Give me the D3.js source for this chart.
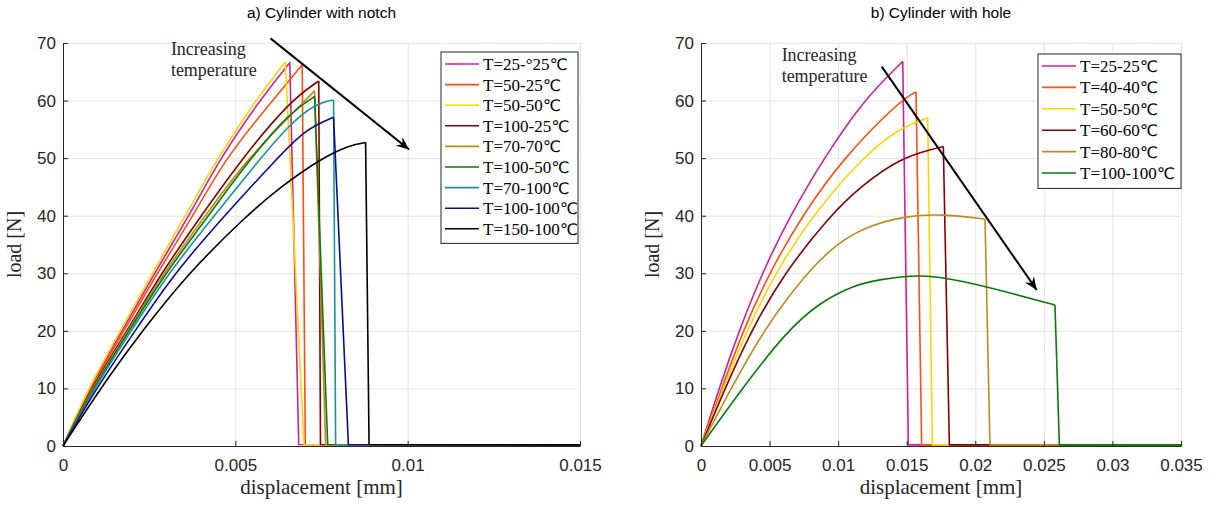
<!DOCTYPE html>
<html>
<head>
<meta charset="utf-8">
<script src="https://cdn.jsdelivr.net/npm/d3@7"></script>
<style>
  body { margin: 0; background: #fff; }
  svg { display: block; }
  .grid line { stroke: #e3e3e3; stroke-width: 1; }
  .grid path { display: none; }
  .axis path, .axis line { stroke: #262626; stroke-width: 1; }
  .axis text { fill: #262626; font-family: "Liberation Sans", Arial, sans-serif; font-size: 17px; }
</style>
</head>
<body>
<svg id="chart" width="1216" height="507"></svg>
<script>
// a) cylinder with notch: [displacement mm, load N]
const notch_25_25  = [[0,0],[0.00076,10],[0.00172,20],[0.00265,30],[0.00366,40],[0.00456,50],[0.0057,60],[0.00658,66.6],[0.00684,0.25],[0.015,0.2]];
const notch_50_25  = [[0,0],[0.00079,10],[0.00177,20],[0.00273,30],[0.00378,40],[0.00471,50],[0.00608,60],[0.00694,66.2],[0.00703,0.25],[0.015,0.2]];
const notch_50_50  = [[0,0],[0.00073,10],[0.00166,20],[0.00259,30],[0.00355,40],[0.00448,50],[0.00558,60],[0.00645,66.7],[0.00699,0.25],[0.015,0.2]];
const notch_100_25 = [[0,0],[0.00081,10],[0.00186,20],[0.00285,30],[0.00401,40],[0.0052,50],[0.0066,60],[0.00742,63.4],[0.00747,0.25],[0.015,0.2]];
const notch_70_70  = [[0,0],[0.00084,10],[0.00189,20],[0.00291,30],[0.00413,40],[0.00535,50],[0.00703,60],[0.0073,61.7],[0.00762,0.25],[0.015,0.2]];
const notch_100_50 = [[0,0],[0.00087,10],[0.00192,20],[0.00297,30],[0.00422,40],[0.00544,50],[0.0066,58],[0.0073,60.7],[0.00768,0.25],[0.015,0.2]];
const notch_70_100 = [[0,0],[0.0009,10],[0.00198,20],[0.00305,30],[0.00439,40],[0.00573,50],[0.0066,56],[0.00733,59.5],[0.00785,60.1],[0.00791,0.25],[0.015,0.2]];
const notch_100_100 = [[0,0],[0.00096,10],[0.00209,20],[0.00323,30],[0.00468,40],[0.00622,50],[0.00703,55],[0.00785,57.1],[0.00828,0.25],[0.015,0.2]];
const notch_150_100 = [[0,0],[0.00108,10],[0.0023,20],[0.00363,30],[0.00532,40],[0.00631,45],[0.0075,50],[0.00834,52.3],[0.00878,52.7],[0.00888,0.25],[0.015,0.2]];

// b) cylinder with hole
const hole_25_25   = [[0,0],[0.00131,10],[0.00277,20],[0.00445,30],[0.00649,40],[0.00897,50],[0.01181,60],[0.01471,66.8],[0.01512,0.2],[0.035,0.2]];
const hole_40_40   = [[0,0],[0.00151,10],[0.00306,20],[0.00496,30],[0.00737,40],[0.01036,50],[0.01451,60],[0.01568,61.5],[0.01609,0.2],[0.035,0.2]];
const hole_50_50   = [[0,0],[0.0016,10],[0.00333,20],[0.0054,30],[0.00809,40],[0.01174,50],[0.01429,55],[0.01653,57],[0.01687,0.2],[0.035,0.2]];
const hole_60_60   = [[0,0],[0.00175,10],[0.00365,20],[0.00605,30],[0.00941,40],[0.01159,45],[0.01451,50],[0.01706,51.7],[0.01767,52],[0.01811,0.2],[0.035,0.2]];
const hole_80_80   = [[0,0],[0.00219,10],[0.00452,20],[0.00766,30],[0.00984,35],[0.01189,38],[0.01488,40],[0.01765,40.3],[0.02071,39.4],[0.02107,0.2],[0.035,0.2]];
const hole_100_100 = [[0,0],[0.00299,10],[0.00627,20],[0.00868,25],[0.01123,28],[0.01281,28.8],[0.01582,29.9],[0.01889,28.8],[0.02253,26.6],[0.02581,24.5],[0.02613,0.2],[0.035,0.2]];

const notchLabels = ['T=25-°25℃', 'T=50-25℃', 'T=50-50℃', 'T=100-25℃', 'T=70-70℃', 'T=100-50℃', 'T=70-100℃', 'T=100-100℃', 'T=150-100℃'];
const holeLabels  = ['T=25-25℃', 'T=40-40℃', 'T=50-50℃', 'T=60-60℃', 'T=80-80℃', 'T=100-100℃'];

const yTicks = [0, 10, 20, 30, 40, 50, 60, 70];
const notchXTicks = [0, 0.005, 0.01, 0.015];
const holeXTicks = [0, 0.005, 0.01, 0.015, 0.02, 0.025, 0.03, 0.035];

// arrow start/end and note position, in data units
const notchArrow = [[0.00602, 70.8], [0.01004, 51.5]];
const holeArrow  = [[0.01318, 65.9], [0.02448, 27.1]];
const notchNote = [0.00313, 67.9];
const holeNote  = [0.00588, 66.9];

const notchColors = ['#cc2299', '#ff4f0f', '#ffd500', '#870000', '#c08a1a', '#0a7a0a', '#169595', '#0a0a99', '#000000'];
const holeColors  = ['#cc2299', '#ff4f0f', '#ffd500', '#870000', '#c08a1a', '#0a7a0a'];

const svg = d3.select('#chart');

svg.append('defs').append('marker')
  .attr('id', 'head')
  .attr('viewBox', '-13 -6 14 12')
  .attr('markerUnits', 'userSpaceOnUse')
  .attr('markerWidth', 14)
  .attr('markerHeight', 12)
  .attr('refX', 0)
  .attr('refY', 0)
  .attr('orient', 'auto')
  .append('path')
  .attr('d', 'M0,0 L-13,-5.5 L-8.5,0 L-13,5.5 Z')
  .attr('fill', '#000');

function drawPanel(cfg) {
  const { left, right, top, bottom } = cfg.box;
  const x = d3.scaleLinear().domain(cfg.xDomain).range([left, right]);
  const y = d3.scaleLinear().domain([0, 70]).range([bottom, top]);
  const g = svg.append('g');
  const fmt = d => d === 0 ? '0' : String(+d.toFixed(3));

  // Grid
  g.append('g').attr('class', 'grid')
    .attr('transform', `translate(0,${bottom})`)
    .call(d3.axisBottom(x).tickValues(cfg.xTicks).tickSize(-(bottom - top)).tickFormat(''));
  g.append('g').attr('class', 'grid')
    .attr('transform', `translate(${left},0)`)
    .call(d3.axisLeft(y).tickValues(yTicks).tickSize(-(right - left)).tickFormat(''));

  // Curves: smooth rise up to failure, then straight drop and residual tail
  const rise = d3.line().x(d => x(d[0])).y(d => y(d[1])).curve(d3.curveBasis);
  const straight = d3.line().x(d => x(d[0])).y(d => y(d[1]));
  cfg.series.forEach((pts, i) => {
    const n = pts.length;
    g.append('path')
      .attr('d', rise(pts.slice(0, n - 2)))
      .attr('fill', 'none')
      .attr('stroke', cfg.colors[i])
      .attr('stroke-width', 1.6);
    g.append('path')
      .attr('d', straight(pts.slice(n - 3)))
      .attr('fill', 'none')
      .attr('stroke', cfg.colors[i])
      .attr('stroke-width', 1.6)
      .attr('stroke-linejoin', 'round');
  });

  // Axes
  g.append('g').attr('class', 'axis')
    .attr('transform', `translate(0,${bottom})`)
    .call(d3.axisBottom(x).tickValues(cfg.xTicks).tickSizeInner(-5).tickSizeOuter(0).tickPadding(13).tickFormat(fmt));
  g.append('g').attr('class', 'axis')
    .attr('transform', `translate(${left},0)`)
    .call(d3.axisLeft(y).tickValues(yTicks).tickSizeInner(-5).tickSizeOuter(0).tickPadding(7));

  // Title
  g.append('text')
    .attr('x', (left + right) / 2)
    .attr('y', 18)
    .attr('text-anchor', 'middle')
    .style('font-family', '"Liberation Sans", Arial, sans-serif')
    .style('font-size', '15.5px')
    .style('fill', '#000')
    .text(cfg.title);

  // Axis labels
  g.append('text')
    .attr('x', (left + right) / 2)
    .attr('y', 494)
    .attr('text-anchor', 'middle')
    .style('font-family', '"Liberation Serif", "Times New Roman", serif')
    .style('font-size', '21px')
    .style('fill', '#262626')
    .text('displacement [mm]');
  g.append('text')
    .attr('transform', `translate(${left - 42},${(top + bottom) / 2}) rotate(-90)`)
    .attr('text-anchor', 'middle')
    .style('font-family', '"Liberation Serif", "Times New Roman", serif')
    .style('font-size', '20px')
    .style('fill', '#262626')
    .text('load [N]');

  // Annotation
  g.append('line')
    .attr('x1', x(cfg.arrow[0][0])).attr('y1', y(cfg.arrow[0][1]))
    .attr('x2', x(cfg.arrow[1][0])).attr('y2', y(cfg.arrow[1][1]))
    .attr('stroke', '#000')
    .attr('stroke-width', 2)
    .attr('marker-end', 'url(#head)');
  const note = g.append('text')
    .attr('x', x(cfg.note[0]))
    .attr('y', y(cfg.note[1]))
    .style('font-family', '"Liberation Serif", "Times New Roman", serif')
    .style('font-size', '18px')
    .style('fill', '#262626');
  note.append('tspan').text('Increasing');
  note.append('tspan').attr('x', x(cfg.note[0])).attr('dy', 21).text('temperature');

  // Legend
  const lg = cfg.legend;
  const legend = g.append('g').attr('transform', `translate(${lg.x},${lg.y})`);
  legend.append('rect')
    .attr('width', lg.w)
    .attr('height', lg.step * cfg.labels.length + 6)
    .attr('fill', '#fff')
    .attr('stroke', '#262626')
    .attr('stroke-width', 1);
  cfg.labels.forEach((label, i) => {
    const cy = 12 + i * lg.step;
    legend.append('line')
      .attr('x1', 4).attr('x2', 38)
      .attr('y1', cy).attr('y2', cy)
      .attr('stroke', cfg.colors[i])
      .attr('stroke-width', 1.6);
    const parts = label.split('℃');
    const t = legend.append('text')
      .attr('x', 42)
      .attr('y', cy + 6)
      .style('fill', '#000');
    t.append('tspan')
      .style('font-family', '"Liberation Serif", "Times New Roman", serif')
      .style('font-size', '17px')
      .text(parts[0]);
    t.append('tspan')
      .style('font-family', '"DejaVu Sans", sans-serif')
      .style('font-size', '16px')
      .text('℃');
  });
}

drawPanel({
  title: 'a) Cylinder with notch',
  box: { left: 63, right: 580, top: 43, bottom: 446 },
  xDomain: [0, 0.015],
  xTicks: notchXTicks,
  series: [notch_25_25, notch_50_25, notch_50_50, notch_100_25, notch_70_70, notch_100_50, notch_70_100, notch_100_100, notch_150_100],
  colors: notchColors,
  labels: notchLabels,
  arrow: notchArrow,
  note: notchNote,
  legend: { x: 441, y: 52, w: 137, step: 20.6 }
});

drawPanel({
  title: 'b) Cylinder with hole',
  box: { left: 701, right: 1181, top: 43, bottom: 446 },
  xDomain: [0, 0.035],
  xTicks: holeXTicks,
  series: [hole_25_25, hole_40_40, hole_50_50, hole_60_60, hole_80_80, hole_100_100],
  colors: holeColors,
  labels: holeLabels,
  arrow: holeArrow,
  note: holeNote,
  legend: { x: 1038, y: 54, w: 143, step: 21.4 }
});
</script>
</body>
</html>
